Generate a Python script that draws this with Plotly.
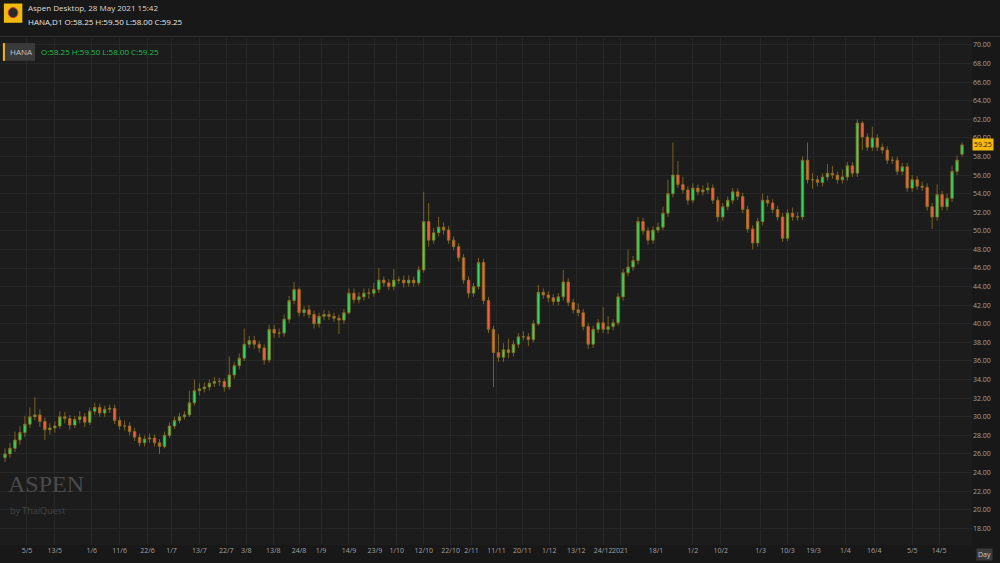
import plotly.graph_objects as go

# HANA daily, 5 May 2020 - 28 May 2021
opens = [25.6,26.0,26.6,27.5,28.3,29.2,30.0,30.2,29.5,28.6,
28.8,29.0,30.0,29.8,29.1,29.7,30.0,29.4,30.6,31.0,
30.4,30.8,30.9,29.6,29.0,29.0,28.4,27.8,27.2,27.6,
27.7,27.2,26.8,28.0,29.0,29.6,30.0,30.2,31.5,32.8,
33.0,33.2,33.6,33.8,33.8,33.2,34.5,35.5,36.3,37.8,
38.2,37.8,37.4,36.1,39.4,39.0,39.0,40.5,42.5,43.7,
41.2,41.5,41.0,40.0,40.8,41.0,40.8,40.6,40.4,41.2,
43.3,42.6,42.9,43.3,43.3,43.7,44.7,44.4,44.0,44.7,
44.7,44.4,44.7,44.4,45.8,51.0,49.0,49.8,50.4,50.1,
49.0,48.3,47.1,44.7,43.3,44.0,46.6,42.5,39.4,36.9,
36.4,37.2,36.9,37.8,38.6,38.6,38.3,40.0,43.4,43.1,
42.8,42.4,42.9,44.5,42.3,41.5,41.2,39.7,37.8,39.4,
40.1,39.4,39.7,40.1,42.9,45.5,46.1,46.8,51.0,50.0,
49.0,50.1,50.4,51.9,54.0,56.0,55.0,54.4,53.3,54.6,
54.2,54.4,54.6,53.3,51.5,52.6,53.3,54.2,53.7,52.3,
50.2,48.7,51.0,53.3,53.0,52.3,51.5,49.2,51.9,51.5,
51.5,57.6,55.5,55.5,55.2,55.8,56.2,56.0,55.5,55.8,
57.0,56.2,61.6,60.1,59.0,60.0,59.0,58.7,57.6,57.6,
56.4,56.9,54.6,55.5,54.8,54.7,52.6,51.5,53.9,52.6,
53.5,56.4,58.25]
highs = [26.6,27.2,28.4,29.0,30.1,31.0,32.1,30.8,29.9,29.3,
29.5,30.6,30.5,30.2,30.1,30.6,30.4,31.0,31.5,31.4,
31.2,31.3,31.3,30.0,29.6,29.4,28.8,28.2,28.0,28.2,
28.1,27.6,28.4,29.4,30.0,30.4,30.6,32.8,34.0,33.6,
33.7,34.0,34.3,34.2,34.1,36.5,35.9,36.8,39.5,38.7,
38.7,38.2,37.8,39.9,39.9,39.5,41.0,43.0,44.5,43.9,
41.9,42.0,41.4,41.2,41.5,41.4,41.2,41.0,41.6,43.8,
43.8,43.4,43.8,43.8,44.4,46.0,45.1,44.8,45.9,45.1,
45.2,45.2,45.1,46.2,54.2,53.0,50.3,51.5,50.9,50.5,
49.4,48.7,47.5,45.1,44.4,47.1,47.0,42.9,39.8,38.9,
37.9,38.4,38.2,39.0,39.2,39.0,40.4,44.2,43.8,43.5,
43.2,43.3,45.8,44.9,42.7,42.2,41.6,40.1,39.8,40.5,
41.8,40.8,40.5,43.3,45.9,48.0,47.3,51.5,51.4,50.4,
50.5,50.9,52.6,55.5,59.5,57.5,55.8,54.8,55.1,55.0,
54.9,55.2,55.0,53.7,53.0,53.7,54.6,54.6,54.1,52.7,
50.6,51.4,54.0,53.8,53.4,52.7,51.9,52.3,52.5,52.0,
58.0,59.5,56.2,55.9,56.2,57.2,57.0,56.4,56.6,57.4,
57.4,62.0,61.8,60.5,61.2,60.4,59.4,59.1,58.0,58.0,
57.3,57.3,56.0,55.9,55.3,55.1,53.0,55.0,54.3,54.0,
57.0,58.1,59.5]
lows = [25.1,25.6,26.2,27.0,27.8,28.8,29.6,28.9,27.5,28.1,
28.3,28.7,29.3,28.6,28.8,29.3,28.9,29.1,30.2,30.0,
30.0,30.4,29.2,28.6,28.5,28.0,27.4,26.8,26.8,27.2,
26.8,26.0,26.6,27.7,28.7,29.3,29.7,30.0,31.2,32.3,
32.6,32.8,33.2,33.3,32.7,32.9,34.1,35.1,36.0,37.4,
37.3,36.9,35.6,35.8,38.5,38.5,38.6,40.1,42.1,40.8,
40.8,40.6,39.5,39.6,40.4,40.4,40.2,38.9,40.0,41.0,
42.2,42.2,42.5,42.7,42.9,43.3,44.0,43.6,43.6,44.3,
43.9,44.0,44.0,44.1,45.5,48.3,48.6,49.4,49.6,48.6,
47.9,46.7,44.3,42.8,42.9,43.7,42.1,39.0,33.2,35.9,
35.9,36.3,36.5,37.4,38.2,37.6,38.0,39.8,42.7,42.3,
42.0,42.0,42.5,41.9,41.1,40.8,39.3,37.3,37.4,39.0,
39.0,38.9,39.3,39.8,42.5,45.1,45.7,46.4,49.6,48.5,
48.6,49.8,50.1,51.5,53.6,54.6,54.0,52.8,53.0,53.8,
53.8,54.0,52.9,51.0,51.1,52.2,52.9,53.3,51.9,49.8,
48.0,48.3,50.6,52.6,51.9,51.1,48.8,48.9,51.1,51.1,
51.2,55.1,54.5,54.8,54.8,55.4,55.6,55.1,55.1,55.4,
55.8,55.8,58.7,58.6,58.6,58.6,58.3,57.2,57.2,56.0,
56.0,54.2,54.2,54.4,54.3,52.2,50.2,51.1,52.2,52.2,
53.1,56.0,58.0]
closes = [26.0,26.6,27.5,28.3,29.2,30.0,30.2,29.5,28.6,28.8,
29.0,30.0,29.8,29.1,29.7,30.0,29.4,30.6,31.0,30.4,
30.8,30.9,29.6,29.0,29.0,28.4,27.8,27.2,27.6,27.7,
27.2,26.8,28.0,29.0,29.6,30.0,30.2,31.5,32.8,33.0,
33.2,33.6,33.8,33.8,33.2,34.5,35.5,36.3,37.8,38.2,
37.8,37.4,36.1,39.4,39.0,39.0,40.5,42.5,43.7,41.2,
41.5,41.0,40.0,40.8,41.0,40.8,40.6,40.4,41.2,43.3,
42.6,42.9,43.3,43.3,43.7,44.7,44.4,44.0,44.7,44.7,
44.4,44.7,44.4,45.8,51.0,49.0,49.8,50.4,50.1,49.0,
48.3,47.1,44.7,43.3,44.0,46.6,42.5,39.4,36.9,36.4,
37.2,36.9,37.8,38.6,38.6,38.3,40.0,43.4,43.1,42.8,
42.4,42.9,44.5,42.3,41.5,41.2,39.7,37.8,39.4,40.1,
39.4,39.7,40.1,42.9,45.5,46.1,46.8,51.0,50.0,49.0,
50.1,50.4,51.9,54.0,56.0,55.0,54.4,53.3,54.6,54.2,
54.4,54.6,53.3,51.5,52.6,53.3,54.2,53.7,52.3,50.2,
48.7,51.0,53.3,53.0,52.3,51.5,49.2,51.9,51.5,51.5,
57.6,55.5,55.5,55.2,55.8,56.2,56.0,55.5,55.8,57.0,
56.2,61.6,60.1,59.0,60.0,59.0,58.7,57.6,57.6,56.4,
56.9,54.6,55.5,54.8,54.7,52.6,51.5,53.9,52.6,53.5,
56.4,57.6,59.25]

tick_labels = ["5/5","13/5","1/6","11/6","22/6","1/7","13/7","22/7","3/8","13/8","24/8",
               "1/9","14/9","23/9","1/10","12/10","22/10","2/11","11/11","20/11","1/12",
               "13/12","24/12","2021","18/1","1/2","10/2","1/3","10/3","19/3","1/4",
               "16/4","5/5","14/5"]
tick_idx = [4.4,10,17.4,23,28.6,33.4,39,44.4,48.4,53.8,59,63.4,69,74.2,78.6,84,89.4,93.6,
            98.6,103.8,109.2,114.6,120,123.4,130.6,138,143.6,151.6,157,162.2,168.6,174.4,
            182,187.4]
period_label = "Day"

last_price = closes[-1]
wick = "#8f7420"

fig = go.Figure()
fig.add_trace(go.Candlestick(
    x=list(range(len(closes))), open=opens, high=highs, low=lows, close=closes,
    increasing=dict(line=dict(color=wick, width=0.8), fillcolor="#22e066"),
    decreasing=dict(line=dict(color=wick, width=0.8), fillcolor="#ff5a40"),
    whiskerwidth=0, hoverinfo="skip"))

fig.update_layout(
    width=1000, height=563, showlegend=False,
    paper_bgcolor="#181818", plot_bgcolor="#1c1c1c",
    margin=dict(l=0, r=28, t=38, b=18),
    xaxis=dict(range=[-1, 194], tickvals=tick_idx, ticktext=tick_labels, tickangle=0,
               rangeslider=dict(visible=False), showgrid=True, gridcolor="#272727",
               zeroline=False, tickfont=dict(size=7, color="#a0a0a0", family="Open Sans"),
               ticks="", showline=False),
    yaxis=dict(range=[16.2, 70.75], side="right", dtick=2, tickformat=".2f",
               showgrid=True, gridcolor="#272727", zeroline=False, ticks="",
               tickfont=dict(size=7, color="#a0a0a0", family="Open Sans")),
    font=dict(family="Open Sans"),
)

fig.add_shape(type="line", xref="paper", yref="paper", x0=0, x1=1.03, y0=1.003, y1=1.003,
              line=dict(color="#333333", width=1))
fig.add_shape(type="rect", xref="paper", yref="paper", x0=0.004, x1=0.023, y0=1.03, y1=1.068,
              fillcolor="#f2b90f", line=dict(width=0))
fig.add_shape(type="circle", xref="paper", yref="paper", x0=0.0085, x1=0.0185, y0=1.04, y1=1.06,
              fillcolor="#2a2a2a", line=dict(color="#d04030", width=1))
fig.add_shape(type="rect", xref="paper", yref="paper", x0=0.004, x1=0.036, y0=0.955, y1=0.99,
              fillcolor="#3a3a3a", line=dict(width=0))
fig.add_shape(type="line", xref="paper", yref="paper", x0=0.004, x1=0.004, y0=0.955, y1=0.99,
              line=dict(color="#f2b90f", width=2))

fig.add_annotation(xref="paper", yref="paper", x=0.027, y=1.075, xanchor="left", yanchor="top",
                   text="Aspen Desktop, 28 May 2021 15:42", showarrow=False,
                   font=dict(size=8, color="#d8d8d8"))
fig.add_annotation(xref="paper", yref="paper", x=0.027, y=1.048, xanchor="left", yanchor="top",
                   text="HANA,D1 O:58.25 H:59.50 L:58.00 C:59.25", showarrow=False,
                   font=dict(size=8, color="#e8e8e8"))
fig.add_annotation(xref="paper", yref="paper", x=0.008, y=0.973, xanchor="left", yanchor="middle",
                   text="HANA", showarrow=False, font=dict(size=8, color="#c8c8c8"))
fig.add_annotation(xref="paper", yref="paper", x=0.04, y=0.973, xanchor="left", yanchor="middle",
                   text="O:58.25 H:59.50 L:58.00 C:59.25", showarrow=False,
                   font=dict(size=8, color="#1fbf4c"))
fig.add_annotation(xref="paper", yref="paper", x=0.006, y=0.09, xanchor="left", yanchor="bottom",
                   text="ASPEN", showarrow=False,
                   font=dict(size=24, color="#4a4a4a", family="Liberation Serif"))
fig.add_annotation(xref="paper", yref="paper", x=0.008, y=0.085, xanchor="left", yanchor="top",
                   text="by ThaiQuest", showarrow=False, font=dict(size=9, color="#444444"))
fig.add_annotation(xref="paper", yref="y", x=1.0, y=last_price, xanchor="left", yanchor="middle",
                   text=f"{last_price:.2f}", showarrow=False, bgcolor="#f2b90f",
                   font=dict(size=7, color="#222222"))
fig.add_annotation(xref="paper", yref="paper", x=1.004, y=-0.005, xanchor="left", yanchor="top",
                   text=period_label, showarrow=False, bgcolor="#3a3a3a",
                   font=dict(size=7, color="#c8c8c8"))

fig.write_html("out.html", config={"displayModeBar": False},
               post_script="document.body.style.margin='0';")
